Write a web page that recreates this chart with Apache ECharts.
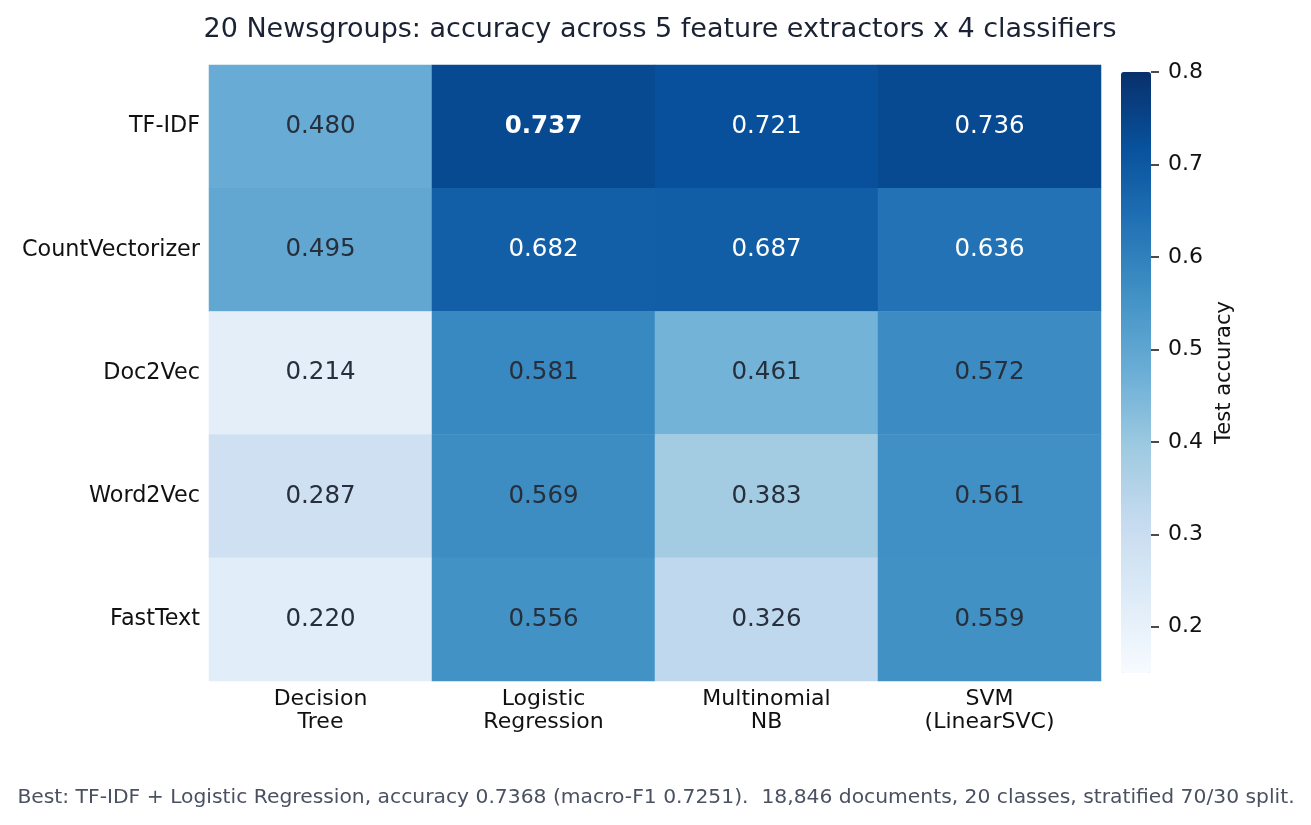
<!DOCTYPE html>
<html>
<head>
<meta charset="utf-8">
<script src="https://cdn.jsdelivr.net/npm/echarts@6/dist/echarts.min.js"></script>
<style>
html,body{margin:0;padding:0;background:#fff;}
#c{width:1311px;height:825px;}
</style>
</head>
<body>
<div id="c"></div>
<script>
// ---- data ----
var features = ["TF-IDF", "CountVectorizer", "Doc2Vec", "Word2Vec", "FastText"];
var classifiers = ["Decision\nTree", "Logistic\nRegression", "Multinomial\nNB", "SVM\n(LinearSVC)"];
var accTFIDF = [0.480, 0.737, 0.721, 0.736];
var accCount = [0.495, 0.682, 0.687, 0.636];
var accDoc2Vec = [0.214, 0.581, 0.461, 0.572];
var accWord2Vec = [0.287, 0.569, 0.383, 0.561];
var accFastText = [0.220, 0.556, 0.326, 0.559];
var colorbarTicks = ["0.2", "0.3", "0.4", "0.5", "0.6", "0.7", "0.8"];
var vmin = 0.15, vmax = 0.8;
var blues = ["#f7fbff","#deebf7","#c6dbef","#9ecae1","#6baed6","#4292c6","#2171b5","#08519c","#08306b"];

var rows = [accTFIDF, accCount, accDoc2Vec, accWord2Vec, accFastText];
var best = -1;
rows.forEach(function(r){ r.forEach(function(v){ if (v > best) best = v; }); });

var data = [];
rows.forEach(function(r, yi){
  r.forEach(function(v, xi){
    data.push({
      value: [xi, yi, v],
      label: {
        color: v > 0.6 ? "#ffffff" : "#262f3b",
        fontWeight: v === best ? "bold" : "normal"
      }
    });
  });
});

// colorbar geometry: bar spans vmin..vmax; tick axis spans first..last tick
var barTop = 72, barH = 601;
var pxPerUnit = barH / (vmax - vmin);
var tickFirst = parseFloat(colorbarTicks[0]), tickLast = parseFloat(colorbarTicks[colorbarTicks.length - 1]);
var tickTop = barTop + (vmax - tickLast) * pxPerUnit;
var tickH = (tickLast - tickFirst) * pxPerUnit;

var FONT = "DejaVu Sans";
var chart = echarts.init(document.getElementById('c'), null, {renderer: 'canvas'});
chart.setOption({
  backgroundColor: "#ffffff",
  animation: false,
  textStyle: {fontFamily: FONT},
  title: [{
    text: "20 Newsgroups: accuracy across 5 feature extractors x 4 classifiers",
    left: 655, top: 11, textAlign: "center",
    textStyle: {fontFamily: FONT, fontSize: 27, fontWeight: "normal", color: "#1a2233"}
  }, {
    text: "Best: TF-IDF + Logistic Regression, accuracy 0.7368 (macro-F1 0.7251).  18,846 documents, 20 classes, stratified 70/30 split.",
    left: 651, top: 783, textAlign: "center",
    textStyle: {fontFamily: FONT, fontSize: 20.3, fontWeight: "normal", color: "#4a5262"}
  }],
  grid: [
    {left: 209, top: 65, width: 892, height: 616},
    {left: 1121, top: barTop, width: 30, height: barH},
    {left: 1151, top: tickTop, width: 40, height: tickH}
  ],
  xAxis: [{
    type: "category", data: classifiers, gridIndex: 0,
    axisLine: {show: false}, axisTick: {show: false}, splitLine: {show: false},
    axisLabel: {fontFamily: FONT, fontSize: 22, color: "#111111", margin: 7, lineHeight: 23}
  }, {
    type: "value", gridIndex: 1, show: false, min: 0, max: 1
  }, {
    type: "value", gridIndex: 2, show: false, min: 0, max: 1
  }],
  yAxis: [{
    type: "category", data: features, gridIndex: 0, inverse: true,
    axisLine: {show: false}, axisTick: {show: false}, splitLine: {show: false},
    axisLabel: {fontFamily: FONT, fontSize: 22.3, color: "#111111", margin: 9}
  }, {
    type: "value", gridIndex: 1, position: "right", min: vmin, max: vmax,
    axisLine: {show: false}, axisTick: {show: false}, axisLabel: {show: false}, splitLine: {show: false},
    name: "Test accuracy", nameLocation: "middle", nameRotate: 90, nameGap: 63,
    nameTextStyle: {fontFamily: FONT, fontSize: 21, color: "#111111"}
  }, {
    type: "category", gridIndex: 2, position: "left", data: colorbarTicks, boundaryGap: false,
    axisLine: {show: false}, splitLine: {show: false},
    axisTick: {show: true, inside: true, length: 8, alignWithLabel: true, interval: 0, lineStyle: {color: "#111111", width: 1.5}},
    axisLabel: {fontFamily: FONT, fontSize: 22, color: "#111111", margin: 17, inside: true, interval: 0, align: "left"}
  }],
  visualMap: {
    type: "continuous", min: vmin, max: vmax, seriesIndex: 0,
    calculable: false, hoverLink: false, realtime: false,
    orient: "vertical", left: 1121, top: barTop, itemWidth: 30, itemHeight: barH,
    padding: 0, text: null, showLabel: false,
    inRange: {color: blues}
  },
  series: [{
    type: "heatmap", xAxisIndex: 0, yAxisIndex: 0, data: data,
    itemStyle: {borderWidth: 0},
    label: {show: true, fontFamily: FONT, fontSize: 24.5,
      formatter: function(p){ return p.value[2].toFixed(3); }},
    emphasis: {disabled: true}
  }]
});
</script>
</body>
</html>
